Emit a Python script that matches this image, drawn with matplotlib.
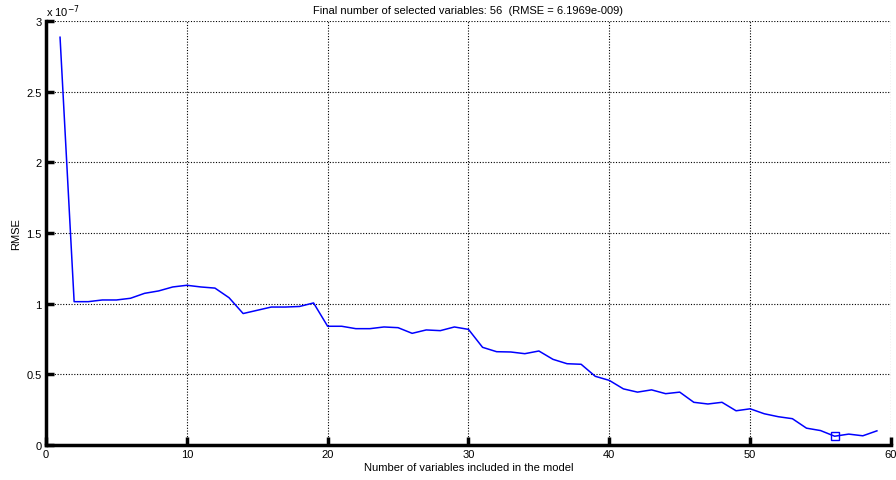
import matplotlib.pyplot as plt
import numpy as np

plt.rcParams['font.family'] = ['Liberation Sans', 'DejaVu Sans']

# RMSE per number of selected variables (units of 1e-7)
n_vars = np.arange(1, 60)
rmse = [
    2.885, 1.014, 1.014, 1.026, 1.026, 1.038, 1.073, 1.090, 1.118, 1.130,
    1.118, 1.110, 1.042, 0.930, 0.953, 0.976, 0.976, 0.980, 1.005, 0.840,
    0.840, 0.823, 0.823, 0.835, 0.830, 0.790, 0.814, 0.809, 0.835, 0.818,
    0.691, 0.660, 0.658, 0.646, 0.665, 0.606, 0.575, 0.571, 0.486, 0.457,
    0.397, 0.374, 0.390, 0.363, 0.374, 0.302, 0.290, 0.302, 0.242, 0.256,
    0.221, 0.200, 0.186, 0.119, 0.102, 0.061969, 0.077, 0.065, 0.100,
]
best_n = 56
best_rmse = 0.061969

fig = plt.figure(figsize=(8.96, 4.81), dpi=100)
ax = fig.add_axes([0.0513, 0.0728, 0.9431, 0.8815])

ax.plot(n_vars, rmse, color='#0000ff', lw=1.1)
ax.plot([best_n], [best_rmse], marker='s', markersize=6, markerfacecolor='none',
        markeredgecolor='#0000ff', markeredgewidth=1.0, ls='none')

ax.set_xlim(0, 60)
ax.set_ylim(0, 3)
ax.set_xticks(np.arange(0, 61, 10))
ax.set_yticks(np.arange(0, 3.01, 0.5))
ax.set_yticklabels(['0', '0.5', '1', '1.5', '2', '2.5', '3'])

ax.grid(True, color='black', linestyle=(0, (1, 1.5)), linewidth=0.8)
for side in ['top', 'right']:
    ax.spines[side].set_visible(False)
for side in ['left', 'bottom']:
    ax.spines[side].set_linewidth(2.5)
ax.tick_params(direction='in', length=6, width=2.5, labelsize=8, pad=3)

ax.text(0, 1.005, r'x 10$^{-7}$', transform=ax.transAxes, fontsize=8,
        ha='left', va='bottom')
ax.set_title('Final number of selected variables: 56  (RMSE = 6.1969e-009)',
             fontsize=8, pad=6)
ax.set_xlabel('Number of variables included in the model', fontsize=8, labelpad=2)
ax.set_ylabel('RMSE', fontsize=8, labelpad=4)

fig.savefig('out.png', dpi=100)
